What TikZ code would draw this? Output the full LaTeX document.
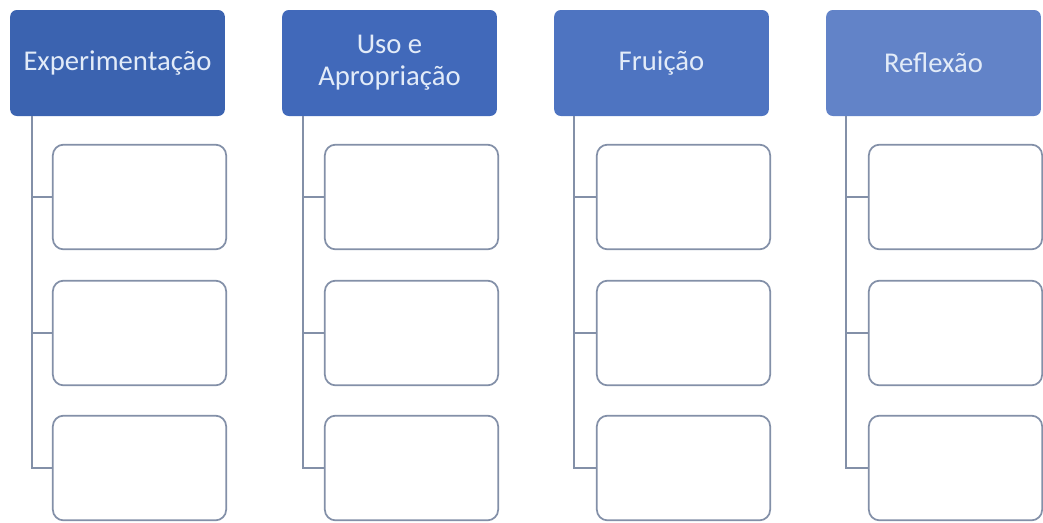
\documentclass[tikz,border=0pt]{standalone}
\usepackage{fontspec}
\setmainfont{Carlito}
\usepackage{xcolor}
\usepackage{tikz}
\usetikzlibrary{positioning}

\definecolor{headA}{HTML}{3B63B0}
\definecolor{headB}{HTML}{4169BA}
\definecolor{headC}{HTML}{4E74C1}
\definecolor{headD}{HTML}{6283C8}
\definecolor{headtext}{HTML}{E2EBF8}
\definecolor{boxline}{HTML}{8390A8}

\begin{document}
\begin{tikzpicture}[
        x=0.75pt, y=-0.75pt,
        head/.style={rectangle, rounded corners=5pt, minimum width=161pt, minimum height=79.5pt,
            text=headtext, align=center, font=\fontsize{21.5}{24}\selectfont, inner sep=0pt},
        item/.style={rectangle, draw=boxline, line width=1.3pt, rounded corners=8pt,
            minimum width=130pt, minimum height=78.5pt, fill=white},
        link/.style={draw=boxline, line width=1.3pt}
    ]
        \useasboundingbox (0,0) rectangle (1043,522);

        % headers
        \node[head, fill=headA] (H1) at (117.5,63) {Experimentação};
        \node[head, fill=headB] (H2) at (389.5,63) {Uso e\\Apropriação};
        \node[head, fill=headC] (H3) at (661.5,63) {Fruição};
        \node[head, fill=headD] (H4) at (933.5,63) {Reflexão};

        % trunk positions
        \coordinate (T1) at (32,0);
        \coordinate (T2) at (303,0);
        \coordinate (T3) at (574,0);
        \coordinate (T4) at (846,0);

        % child boxes
        \node[item] (C11) at (139.5,197) {};
        \node[item] (C12) at (139.5,333) {};
        \node[item] (C13) at (139.5,468) {};
        \node[item] (C21) at (411.5,197) {};
        \node[item] (C22) at (411.5,333) {};
        \node[item] (C23) at (411.5,468) {};
        \node[item] (C31) at (683.5,197) {};
        \node[item] (C32) at (683.5,333) {};
        \node[item] (C33) at (683.5,468) {};
        \node[item] (C41) at (955.5,197) {};
        \node[item] (C42) at (955.5,333) {};
        \node[item] (C43) at (955.5,468) {};

        % connectors
        \draw[link] (T1 |- H1.south) |- (C13.west);
        \draw[link] (T1 |- C11.west) -- (C11.west);
        \draw[link] (T1 |- C12.west) -- (C12.west);
        \draw[link] (T2 |- H2.south) |- (C23.west);
        \draw[link] (T2 |- C21.west) -- (C21.west);
        \draw[link] (T2 |- C22.west) -- (C22.west);
        \draw[link] (T3 |- H3.south) |- (C33.west);
        \draw[link] (T3 |- C31.west) -- (C31.west);
        \draw[link] (T3 |- C32.west) -- (C32.west);
        \draw[link] (T4 |- H4.south) |- (C43.west);
        \draw[link] (T4 |- C41.west) -- (C41.west);
        \draw[link] (T4 |- C42.west) -- (C42.west);
    \end{tikzpicture}
\end{document}
